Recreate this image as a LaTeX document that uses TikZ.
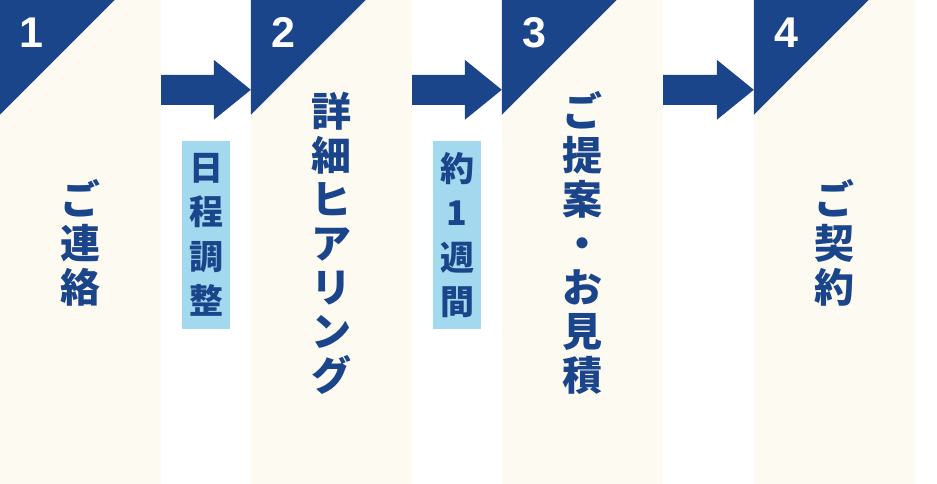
\documentclass[tikz,border=0pt]{standalone}
\usepackage{fontspec}
\newfontfamily\jpfont{Noto Sans CJK JP}
\newfontfamily\numfont{Liberation Sans}
\definecolor{colorBlue}{HTML}{1B458B}
\definecolor{colorCream}{HTML}{FDFAF2}
\definecolor{colorSky}{HTML}{A3D9EF}
\tikzset{
  step column/.style={
    fill=colorCream,minimum width=161pt,minimum height=484pt,inner sep=0pt,
  },
  step text/.style={
    text=colorBlue,align=center,inner sep=0pt,
    font=\jpfont\bfseries\fontsize{40}{44}\selectfont,
  },
  wait box/.style={
    fill=colorSky,text=colorBlue,align=center,inner sep=0pt,
    minimum width=48pt,minimum height=188pt,
    font=\jpfont\bfseries\fontsize{34}{44.5}\selectfont,
  },
  step number/.style={
    text=white,inner sep=0pt,font=\numfont\bfseries\fontsize{43}{43}\selectfont,
  },
}

\begin{document}
\begin{tikzpicture}[x=1pt,y=-1pt]
   \fill[white] (0,0) rectangle (937,484);
   \useasboundingbox (0,0) rectangle (937,484);

   % COLUMNS
   \node[step column] (c1) at (80.5, 242) {}; % contact
   \node[step column] (c2) at (331.5, 242) {}; % hearing
   \node[step column] (c3) at (582.5, 242) {}; % proposal
   \node[step column] (c4) at (834.5, 242) {}; % contract

   % DRAW ARROWS
   \fill[colorBlue] ([yshift=-75pt]c1.north east)--([xshift=-37pt,yshift=-75pt]c2.north west)--([xshift=-37pt,yshift=-60pt]c2.north west)--([yshift=-90pt]c2.north west)--([xshift=-37pt,yshift=-120pt]c2.north west)--([xshift=-37pt,yshift=-105pt]c2.north west)--([yshift=-105pt]c1.north east)--cycle;
   \fill[colorBlue] ([yshift=-75pt]c2.north east)--([xshift=-37pt,yshift=-75pt]c3.north west)--([xshift=-37pt,yshift=-60pt]c3.north west)--([yshift=-90pt]c3.north west)--([xshift=-37pt,yshift=-120pt]c3.north west)--([xshift=-37pt,yshift=-105pt]c3.north west)--([yshift=-105pt]c2.north east)--cycle;
   \fill[colorBlue] ([yshift=-75pt]c3.north east)--([xshift=-37pt,yshift=-75pt]c4.north west)--([xshift=-37pt,yshift=-60pt]c4.north west)--([yshift=-90pt]c4.north west)--([xshift=-37pt,yshift=-120pt]c4.north west)--([xshift=-37pt,yshift=-105pt]c4.north west)--([yshift=-105pt]c3.north east)--cycle;

   % DRAW CORNERS
   \fill[colorBlue] (c1.north west)--++(115,0)--++(-115,115)--cycle;
   \fill[colorBlue] (c2.north west)--++(115,0)--++(-115,115)--cycle;
   \fill[colorBlue] (c3.north west)--++(115,0)--++(-115,115)--cycle;
   \fill[colorBlue] (c4.north west)--++(115,0)--++(-115,115)--cycle;

   % NUMBERS
   \node[step number] (n1) at ([xshift=32pt,yshift=-33pt]c1.north west) {1};
   \node[step number] (n2) at ([xshift=33pt,yshift=-33pt]c2.north west) {2};
   \node[step number] (n3) at ([xshift=33pt,yshift=-33pt]c3.north west) {3};
   \node[step number] (n4) at ([xshift=33pt,yshift=-33pt]c4.north west) {4};

   % TEXTS
   \node[step text] (t1) at (80.5, 243) {ご\\連\\絡};
   \node[step text] (t2) at (331.5, 243) {詳\\細\\ヒ\\ア\\リ\\ン\\グ};
   \node[step text] (t3) at (582.5, 243) {ご\\提\\案\\・\\お\\見\\積};
   \node[step text] (t4) at (834.5, 243) {ご\\契\\約};

   % WAITING TIMES
   \node[wait box] (w1) at (206, 235) {日\\程\\調\\整};
   \node[wait box] (w2) at (457, 235) {約\\1\\週\\間};

\end{tikzpicture}
\end{document}
